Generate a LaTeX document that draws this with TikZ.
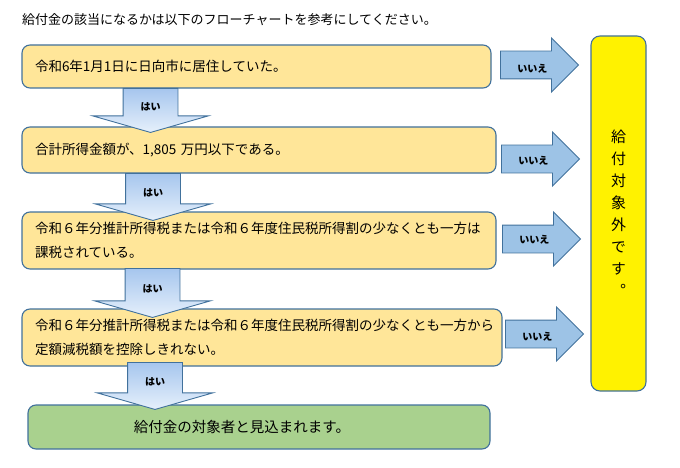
\documentclass[tikz,border=0pt]{standalone}
\usepackage{fontspec}
\setmainfont{Noto Sans CJK JP}
\newfontfamily\tatefont[RawFeature=+vert]{Noto Sans CJK JP}
\usepackage{tikz}
\usetikzlibrary{shapes.arrows, calc}
\definecolor{boxline}{HTML}{41719C}
\definecolor{joukenfill}{HTML}{FFE699}
\definecolor{kekkafill}{HTML}{A9D18E}
\definecolor{iiefill}{HTML}{9DC3E6}
\definecolor{haitop}{HTML}{A6C6EE}
\definecolor{haibot}{HTML}{E6F0FB}
\tikzstyle{jouken} = [rectangle, rounded corners=8pt, draw=boxline, line width=1.1pt, fill=joukenfill, align=left, inner xsep=13pt, font=\fontsize{13.5}{24.5}\selectfont]
\tikzstyle{kekka} = [rectangle, rounded corners=8pt, draw=boxline, line width=1.1pt, fill=kekkafill, align=center, font=\fontsize{14.5}{16}\selectfont]
\tikzstyle{taishougai} = [rectangle, rounded corners=9pt, draw=boxline, line width=1.1pt, fill=yellow, align=center, text width=20pt, font=\tatefont\fontsize{15}{22}\selectfont]
\tikzstyle{haipil} = [single arrow, shape border rotate=270, draw=boxline, line width=0.9pt, top color=haitop, bottom color=haibot, text width=54pt, align=center, inner xsep=0pt, inner ysep=2pt, single arrow head extend=30.5pt, single arrow tip angle=148, font=\fontsize{10}{10}\selectfont\bfseries]
\tikzstyle{iiepil} = [single arrow, draw=boxline, line width=0.9pt, fill=iiefill, minimum height=78pt, text height=7pt, text depth=2pt, inner ysep=9pt, inner xsep=2pt, single arrow head extend=13pt, font=\fontsize{10}{10}\selectfont\bfseries]

\begin{document}
\begin{tikzpicture}[x=1pt, y=-1pt]
    \useasboundingbox (0,0) rectangle (680,468);

    \node (titel) [anchor=west, inner sep=0pt, font=\fontsize{13}{13}\selectfont] at (22,20) {給付金の該当になるかは以下のフローチャートを参考にしてください。};

    \node (steg1) [jouken, minimum width=469pt, minimum height=43pt, text width=443pt] at (256.5,66.5) {令和6年1月1日に日向市に居住していた。};
    \node (steg2) [jouken, minimum width=474pt, minimum height=46pt, text width=448pt] at (259,150) {合計所得金額が、1,805 万円以下である。};
    \node (steg3) [jouken, minimum width=474pt, minimum height=57pt, text width=448pt] at (259,240.5) {令和６年分推計所得税または令和６年度住民税所得割の少なくとも一方は\\課税されている。};
    \node (steg4) [jouken, minimum width=480pt, minimum height=57pt, text width=454pt] at (262,337.5) {令和６年分推計所得税または令和６年度住民税所得割の少なくとも一方から\\定額減税額を控除しきれない。};
    \node (kekka) [kekka, minimum width=462pt, minimum height=44pt] at (259,427) {給付金の対象者と見込まれます。\hspace*{34pt}};
    \node (taishougai) [taishougai, minimum width=55pt, minimum height=355pt] at (618.5,213.5) {給\\付\\対\\象\\外\\で\\す\\。};

    % はい
    \node (hai1) [haipil, minimum height=44pt, anchor=tail] at (150.5,88) {\raisebox{-5pt}{はい}};
    \node (hai2) [haipil, minimum height=47pt, anchor=tail] at (153,173) {\raisebox{-3pt}{はい}};
    \node (hai3) [haipil, minimum height=49pt, anchor=tail] at (152.5,268) {はい};
    \node (hai4) [haipil, minimum height=47pt, anchor=tail] at (155,362) {\raisebox{-2pt}{はい}};

    % いいえ
    \node (iie1) [iiepil, anchor=tail] at (500,65) {\raisebox{-5pt}{いいえ}};
    \node (iie2) [iiepil, anchor=tail] at (501,159) {\raisebox{-3pt}{いいえ}};
    \node (iie3) [iiepil, anchor=tail] at (502,239) {\raisebox{-2pt}{いいえ}};
    \node (iie4) [iiepil, anchor=tail] at (505,334) {\raisebox{-4pt}{いいえ}};
\end{tikzpicture}
\end{document}
